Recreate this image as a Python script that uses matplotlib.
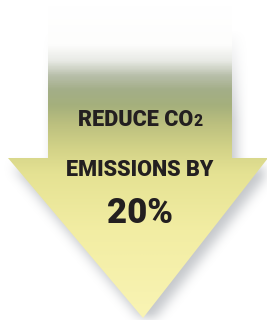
import matplotlib
matplotlib.use("Agg")
import matplotlib.pyplot as plt
import numpy as np
from matplotlib.patches import Polygon
from matplotlib.path import Path
from matplotlib.colors import LinearSegmentedColormap

# ---- content ----
line1_main = "REDUCE CO"
line1_sub = "2"
line2 = "EMISSIONS BY"
value_label = "20%"

# gradient stops along the arrow (fraction of height, colour)
grad_pos = [0.0, 0.125, 0.176, 0.224, 0.27, 0.32, 0.38, 0.46, 0.54, 0.72, 1.0]
grad_col = ["#ffffff", "#fdfdfc", "#e8eae5", "#b8bfaa", "#a3ae88", "#a5b07c",
            "#bcc07f", "#d3d388", "#e5e293", "#f2eda3", "#f9f4b4"]

W, H = 267, 320
fig = plt.figure(figsize=(W / 100, H / 100), dpi=100)
ax = fig.add_axes([0, 0, 1, 1])
ax.set_xlim(0, W)
ax.set_ylim(H, 0)
ax.axis("off")

arrow = [(48, 5), (232, 5), (232, 158), (268, 158), (143, 318),
         (8, 158), (48, 158)]

# blurred drop shadow (offset down/right), fading toward the top
yy, xx = np.mgrid[0:H, 0:W] + 0.5
shadow_path = Path([(x + 5, y + 9) for x, y in arrow] + [(48 + 5, 5 + 9)], closed=True)
mask = shadow_path.contains_points(np.c_[xx.ravel(), yy.ravel()]).reshape(H, W).astype(float)
k = 13
kern = np.ones(k) / k
for _ in range(2):
    mask = np.apply_along_axis(lambda m: np.convolve(m, kern, mode="same"), 0, mask)
    mask = np.apply_along_axis(lambda m: np.convolve(m, kern, mode="same"), 1, mask)
fade = np.clip((yy - 30) / 90, 0, 1)
rgba = np.zeros((H, W, 4))
rgba[..., 0] = 150 / 255
rgba[..., 1] = 155 / 255
rgba[..., 2] = 162 / 255
rgba[..., 3] = mask * 0.55 * fade
ax.imshow(rgba, extent=(0, W, H, 0), zorder=1, interpolation="bilinear")

cmap = LinearSegmentedColormap.from_list("arr", list(zip(grad_pos, grad_col)))
grad = np.linspace(0, 1, 400).reshape(-1, 1)
im = ax.imshow(grad, cmap=cmap, aspect="auto", extent=(0, W, 318, 5),
               zorder=2, interpolation="bilinear")
poly = Polygon(arrow, closed=True, facecolor="none", edgecolor="none", zorder=2)
ax.add_patch(poly)
im.set_clip_path(poly)
ax.set_xlim(0, W)
ax.set_ylim(H, 0)

font = dict(family=["Roboto", "DejaVu Sans"], weight="heavy",
            color="#231f20")

fig.canvas.draw()
r = fig.canvas.get_renderer()

def fit(txt, target_w, base=18):
    t = ax.text(0, 0, txt, fontsize=base, **font)
    w = t.get_window_extent(r).width
    t.remove()
    return base * target_w / w

cx = 140
# first line: main text + smaller "2" on the same baseline
fs1 = fit(line1_main + "2", 128)
t1 = ax.text(0, 126, line1_main, fontsize=fs1, ha="left", va="baseline", **font)
t2 = ax.text(0, 126, line1_sub, fontsize=fs1 * 0.72, ha="left", va="baseline", **font)
w1 = t1.get_window_extent(r).width
w2 = t2.get_window_extent(r).width
start = cx - (w1 + w2) / 2
t1.set_x(start)
t2.set_x(start + w1 + 0.5)

fs2 = fit(line2, 148)
ax.text(cx, 176, line2, fontsize=fs2, ha="center", va="baseline", **font)
ax.text(cx, 223, value_label, fontsize=25, ha="center", va="baseline", **font)

fig.savefig("out.png", dpi=100)
